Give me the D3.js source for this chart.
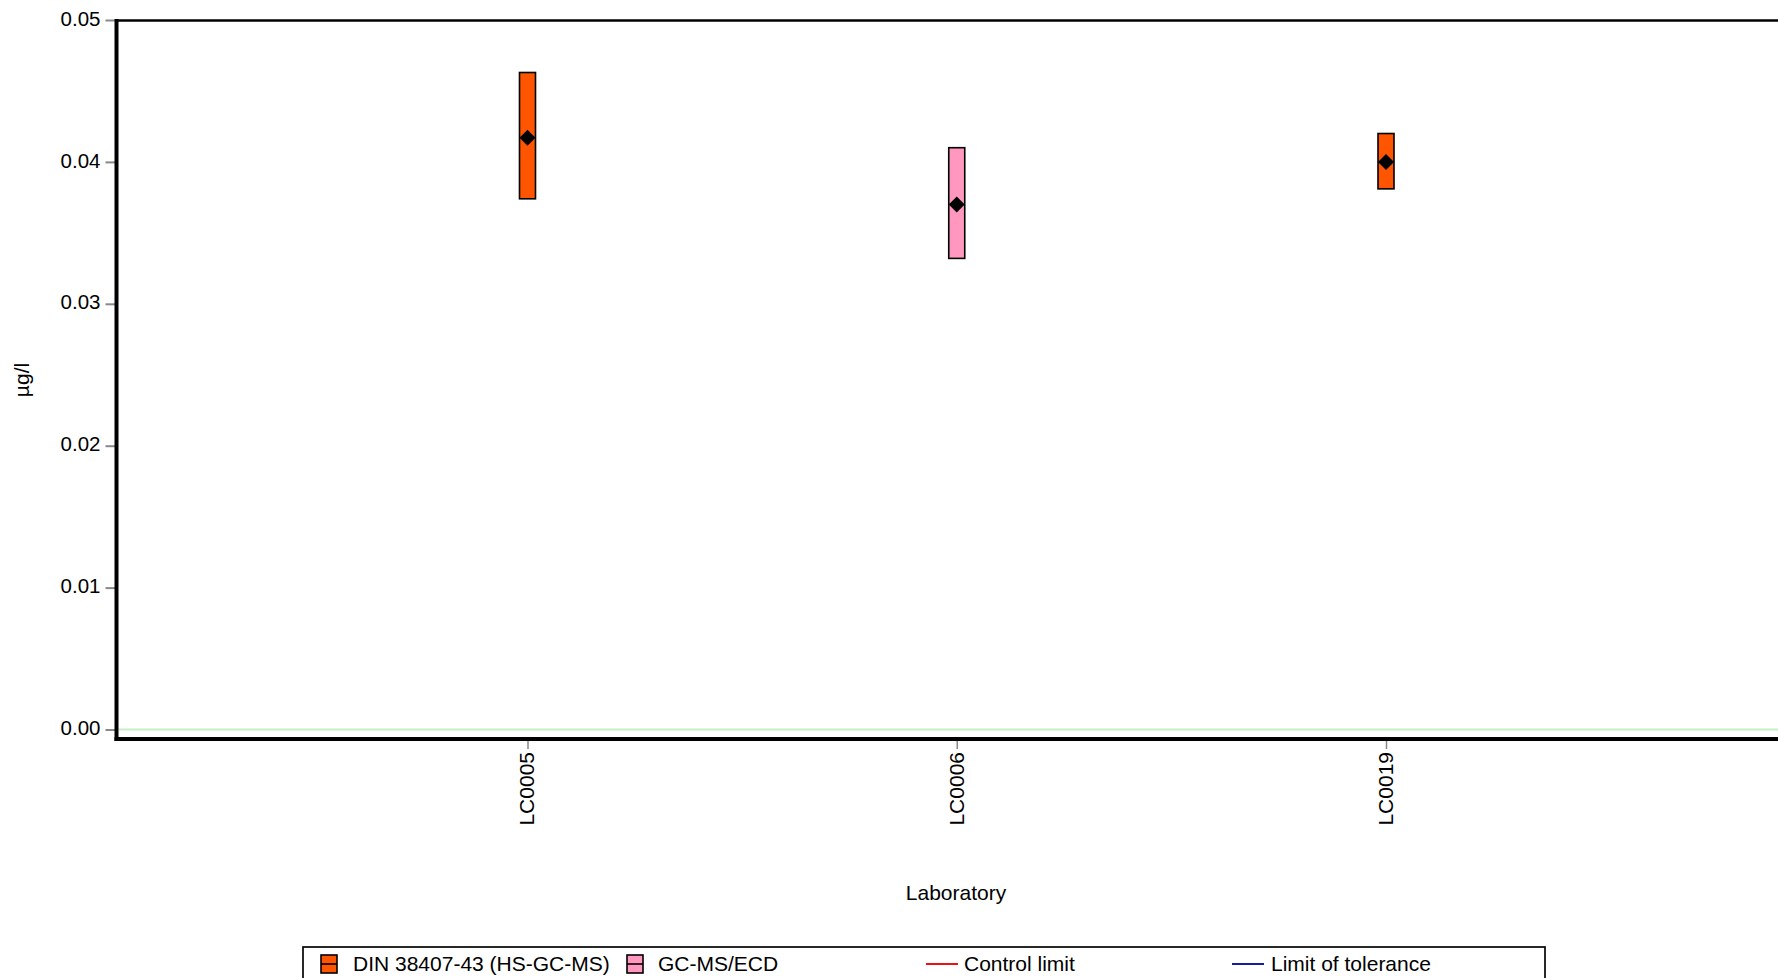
<!DOCTYPE html>
<html>
<head>
<meta charset="utf-8">
<script src="https://cdn.jsdelivr.net/npm/d3@7"></script>
<style>
  html, body { margin: 0; padding: 0; background: #fff; overflow: hidden; }
  svg { display: block; font-family: "Liberation Sans", Arial, sans-serif; }
</style>
</head>
<body>
<svg id="chart" width="1778" height="978"></svg>
<script>
// ---- data ----
const labs = ["LC0005", "LC0006", "LC0019"];
const labMethod = ["DIN 38407-43 (HS-GC-MS)", "GC-MS/ECD", "DIN 38407-43 (HS-GC-MS)"];
const means = [0.0417, 0.0370, 0.0400];
const lowers = [0.0374, 0.0332, 0.0381];
const uppers = [0.0463, 0.0410, 0.0420];
const yTicks = [0, 0.01, 0.02, 0.03, 0.04, 0.05];
const methodNames = ["DIN 38407-43 (HS-GC-MS)", "GC-MS/ECD"];
const methodColors = ["#ff5500", "#ff97be"];
const lineNames = ["Control limit", "Limit of tolerance"];
const lineColors = ["#ee1111", "#1a1aa8"];
const assignedValue = [0];

// ---- layout ----
const plotLeft = 116.5, plotRight = 1778, plotBottom = 739;
const svg = d3.select("#chart");

const y = d3.scaleLinear().domain([0, 0.05]).range([729.5, 20]);
const x = d3.scalePoint().domain(labs).range([527.5, 1386]).padding(0);
const color = d3.scaleOrdinal().domain(methodNames).range(methodColors);

// zero / reference line (light green)
svg.selectAll("line.ref").data(assignedValue).enter().append("line")
  .attr("class", "ref")
  .attr("x1", plotLeft).attr("x2", plotRight)
  .attr("y1", d => y(d)).attr("y2", d => y(d))
  .attr("stroke", "#c4f0c4").attr("stroke-width", 2);

// y axis
const yAxis = d3.axisLeft(y).tickValues(yTicks).tickFormat(d3.format(".2f")).tickSize(11).tickPadding(5);
const gy = svg.append("g").attr("transform", `translate(${plotLeft},0)`).call(yAxis);
gy.select(".domain").remove();
gy.selectAll(".tick line").attr("stroke", "#888").attr("stroke-width", 2);
gy.selectAll(".tick text").attr("font-size", 20.5).attr("fill", "#000")
  .attr("font-family", "Liberation Sans, Arial, sans-serif")
  .attr("dy", "0.25em");

// x axis
const xAxis = d3.axisBottom(x).tickSize(12).tickPadding(5);
const gx = svg.append("g").attr("transform", `translate(0,${plotBottom - 2})`).call(xAxis);
gx.select(".domain").remove();
gx.selectAll(".tick line").attr("stroke", "#888").attr("stroke-width", 1.5);
gx.selectAll(".tick text")
  .attr("font-size", 21).attr("fill", "#000")
  .attr("font-family", "Liberation Sans, Arial, sans-serif")
  .attr("text-anchor", "end")
  .attr("transform", "rotate(-90)")
  .attr("x", -15).attr("y", 0).attr("dy", "0.3em");

// frame lines
svg.append("line").attr("x1", plotLeft).attr("x2", plotRight).attr("y1", 20.5).attr("y2", 20.5)
  .attr("stroke", "#000").attr("stroke-width", 2.5);
svg.append("line").attr("x1", plotLeft).attr("x2", plotLeft).attr("y1", 19).attr("y2", 741)
  .attr("stroke", "#000").attr("stroke-width", 4);
svg.append("line").attr("x1", 114.5).attr("x2", plotRight).attr("y1", plotBottom).attr("y2", plotBottom)
  .attr("stroke", "#000").attr("stroke-width", 4);

// bars (uncertainty ranges)
const data = labs.map((l, i) => ({ lab: l, method: labMethod[i], mean: means[i], lo: lowers[i], hi: uppers[i] }));
const barW = 16;
svg.selectAll("rect.bar").data(data).enter().append("rect")
  .attr("class", "bar")
  .attr("x", d => x(d.lab) - barW / 2)
  .attr("width", barW)
  .attr("y", d => y(d.hi))
  .attr("height", d => y(d.lo) - y(d.hi))
  .attr("fill", d => color(d.method))
  .attr("stroke", "#000").attr("stroke-width", 1.6);

// mean diamonds
const dia = 8;
svg.selectAll("path.mean").data(data).enter().append("path")
  .attr("class", "mean")
  .attr("d", d => {
    const cx = x(d.lab), cy = y(d.mean);
    return `M${cx},${cy - dia}L${cx + dia},${cy}L${cx},${cy + dia}L${cx - dia},${cy}Z`;
  })
  .attr("fill", "#000");

// axis titles
svg.append("text").attr("x", 956).attr("y", 900).attr("text-anchor", "middle")
  .attr("font-size", 21).text("Laboratory");
svg.append("text").attr("transform", "translate(29,380) rotate(-90)").attr("text-anchor", "middle")
  .attr("font-size", 21).text("µg/l");

// legend
const lg = svg.append("g");
lg.append("rect").attr("x", 303).attr("y", 947).attr("width", 1242).attr("height", 60)
  .attr("fill", "#fff").attr("stroke", "#111").attr("stroke-width", 1.8);
const swatchX = [321, 627];
const textX1 = [353, 658];
methodNames.forEach((m, i) => {
  lg.append("rect").attr("x", swatchX[i]).attr("y", 955).attr("width", 16).attr("height", 18)
    .attr("fill", methodColors[i]).attr("stroke", "#000").attr("stroke-width", 1.6);
  lg.append("line").attr("x1", swatchX[i]).attr("x2", swatchX[i] + 16).attr("y1", 964).attr("y2", 964)
    .attr("stroke", "#000").attr("stroke-width", 1.6);
  lg.append("text").attr("x", textX1[i]).attr("y", 971).attr("font-size", 21).text(m);
});
const lineX = [926, 1232];
const textX2 = [964, 1271];
lineNames.forEach((n, i) => {
  lg.append("line").attr("x1", lineX[i]).attr("x2", lineX[i] + 32).attr("y1", 964).attr("y2", 964)
    .attr("stroke", lineColors[i]).attr("stroke-width", 2);
  lg.append("text").attr("x", textX2[i]).attr("y", 971).attr("font-size", 21).text(n);
});
</script>
</body>
</html>
